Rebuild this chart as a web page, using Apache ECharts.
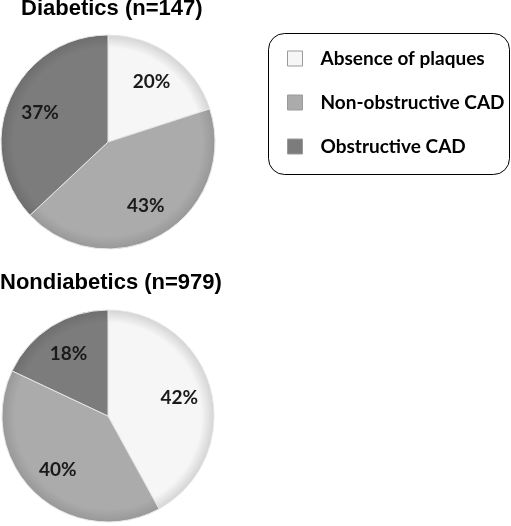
<!DOCTYPE html>
<html>
<head>
<meta charset="utf-8">
<script src="https://cdn.jsdelivr.net/npm/echarts@6/dist/echarts.min.js"></script>
<style>
html,body{margin:0;padding:0;background:#fff;}
#chart{width:511px;height:526px;}
</style>
</head>
<body>
<div id="chart"></div>
<script>
// Data
var categories = ['Absence of plaques', 'Non-obstructive CAD', 'Obstructive CAD'];
var diabeticsValues = [20, 43, 37];
var nondiabeticsValues = [42, 40, 18];
var titles = ['Diabetics (n=147)', 'Nondiabetics (n=979)'];

var baseColors = ['#f6f6f6', '#ababab', '#7c7c7c'];
var edgeColors = ['#d4d4d4', '#989898', '#6e6e6e'];

var pies = [
  {values: diabeticsValues, cx: 108, cy: 142, r: 107},
  {values: nondiabeticsValues, cx: 108, cy: 416, r: 106}
];

function grad(i, p) {
  return {
    type: 'radial', x: p.cx, y: p.cy, r: p.r, global: true,
    colorStops: [
      {offset: 0, color: baseColors[i]},
      {offset: 0.88, color: baseColors[i]},
      {offset: 1, color: edgeColors[i]}
    ]
  };
}

var legendText = {fontFamily: 'Lato', fontWeight: 'bold', fontSize: 19, color: '#000', padding: [0, 0, 0, 13], lineHeight: 19};

var series = [];
pies.forEach(function (p) {
  series.push({
    type: 'pie',
    center: [p.cx, p.cy],
    radius: [0, p.r],
    startAngle: 90,
    clockwise: true,
    silent: true,
    label: {show: false},
    labelLine: {show: false},
    itemStyle: {borderColor: '#e6e6e6', borderWidth: 1},
    data: categories.map(function (c, i) {
      return {name: c, value: p.values[i], itemStyle: {color: grad(i, p)}};
    })
  });
  series.push({
    type: 'pie',
    center: [p.cx, p.cy],
    radius: [p.r * 0.33, p.r],
    startAngle: 90,
    clockwise: true,
    silent: true,
    itemStyle: {color: 'rgba(0,0,0,0)'},
    label: {
      show: true, position: 'inside',
      formatter: '{c}%',
      fontFamily: 'Lato', fontWeight: 'bold', fontSize: 19, color: '#1a1a1a'
    },
    labelLine: {show: false},
    data: categories.map(function (c, i) {
      return {name: c, value: p.values[i]};
    })
  });
});

var chart = echarts.init(document.getElementById('chart'), null, {renderer: 'canvas'});
chart.setOption({
  backgroundColor: '#fff',
  animation: false,
  title: [
    {text: titles[0], left: 21, top: -2, padding: 0,
     textStyle: {fontFamily: 'Liberation Sans', fontWeight: 'bold', fontSize: 22, color: '#000'}},
    {text: titles[1], left: 0, top: 272, padding: 0,
     textStyle: {fontFamily: 'Liberation Sans', fontWeight: 'bold', fontSize: 22, color: '#000'}}
  ],
  graphic: [{
    type: 'rect',
    shape: {x: 268.5, y: 33.5, width: 241, height: 141, r: 16},
    style: {fill: '#fff', stroke: '#000', lineWidth: 1},
    z: -1
  }],
  legend: {
    orient: 'vertical',
    left: 287, top: 49,
    padding: 0,
    itemWidth: 15, itemHeight: 15,
    itemGap: 25,
    icon: 'rect',
    selectedMode: false,
    textStyle: legendText,
    data: categories.map(function (c, i) {
      return {name: c, textStyle: legendText,
              itemStyle: {color: baseColors[i], borderColor: '#9a9a9a', borderWidth: 1}};
    })
  },
  series: series
});
</script>
</body>
</html>
